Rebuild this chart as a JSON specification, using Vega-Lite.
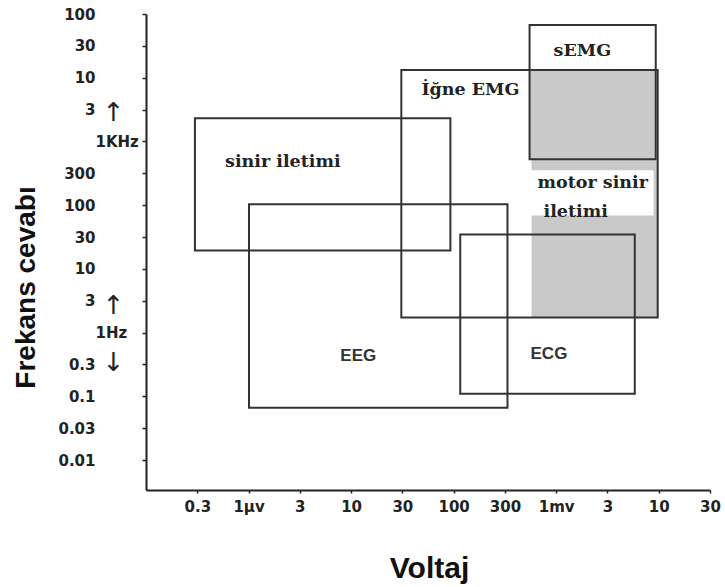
{
  "$schema": "https://vega.github.io/schema/vega-lite/v6.json",
  "width": 564,
  "height": 476,
  "autosize": {"type": "none"},
  "padding": {"left": 146, "top": 14, "right": 15, "bottom": 97},
  "background": "white",
  "config": {"view": {"stroke": null}, "axis": {"grid": false}},
  "datasets": {
    "shade": [
      {"name": "sEMG ∩ İğne EMG", "v1": 0.00055, "v2": 0.00935, "f1": 525, "f2": 13200},
      {"name": "motor sinir iletimi", "v1": 0.000575, "v2": 0.00977, "f1": 1.72, "f2": 525}
    ],
    "labelbox": [
      {"name": "motor sinir iletimi", "v1": 0.00056, "v2": 0.00893, "f1": 69, "f2": 352}
    ],
    "regions": [
      {"name": "sinir iletimi", "v1": 3.0e-7, "v2": 9.3e-5, "f1": 19.5, "f2": 2317},
      {"name": "EEG", "v1": 1.01e-6, "v2": 3.35e-4, "f1": 0.066, "f2": 103},
      {"name": "İğne EMG", "v1": 3.09e-5, "v2": 0.00977, "f1": 1.72, "f2": 13200},
      {"name": "sEMG", "v1": 0.00055, "v2": 0.00935, "f1": 525, "f2": 67000},
      {"name": "ECG", "v1": 1.16e-4, "v2": 0.00584, "f1": 0.11, "f2": 34.7}
    ],
    "serifLabels": [
      {"text": "sinir iletimi", "v": 5.9e-7, "f": 471},
      {"text": "İğne EMG", "v": 4.85e-5, "f": 6380},
      {"text": "sEMG", "v": 0.000944, "f": 26200},
      {"text": "motor sinir", "v": 0.000658, "f": 220},
      {"text": "iletimi", "v": 0.000753, "f": 77}
    ],
    "sansLabels": [
      {"text": "EEG", "v": 7.86e-6, "f": 0.434},
      {"text": "ECG", "v": 0.000562, "f": 0.468}
    ]
  },
  "layer": [
    {
      "data": {"name": "shade"},
      "mark": {"type": "rect", "fill": "#c9c9c9", "strokeWidth": 0},
      "encoding": {
        "x": {
          "field": "v1", "type": "quantitative",
          "scale": {"type": "log", "domain": [1e-7, 0.031623], "nice": false},
          "axis": {
            "orient": "bottom",
            "values": [3.1623e-7, 1e-6, 3.1623e-6, 1e-5, 3.1623e-5, 1e-4, 3.1623e-4, 1e-3, 3.1623e-3, 1e-2, 3.1623e-2],
            "labelExpr": "['0.3','1µv','3','10','30','100','300','1mv','3','10','30'][round(log(datum.value)/LN10*2)+13]",
            "labelFont": "DejaVu Sans", "labelFontSize": 15, "labelFontWeight": "bold", "labelColor": "#222",
            "labelPadding": 6, "labelOverlap": false, "labelFlush": false, "labelBound": false,
            "tickSize": 3, "tickColor": "#222", "tickWidth": 1.5,
            "domainColor": "#222", "domainWidth": 2,
            "title": "Voltaj", "titleFont": "Liberation Sans", "titleFontSize": 30, "titleFontWeight": "bold",
            "titleColor": "#111", "titleBaseline": "alphabetic", "titleY": 87, "titleX": 283, "titleAlign": "center"
          }
        },
        "x2": {"field": "v2"},
        "y": {
          "field": "f1", "type": "quantitative",
          "scale": {"type": "log", "domain": [0.00339, 100000], "nice": false},
          "axis": {
            "orient": "left",
            "values": [0.01, 0.031623, 0.1, 0.31623, 1, 3.1623, 10, 31.623, 100, 316.23, 1000, 3162.3, 10000, 31623, 100000],
            "labelExpr": "['0.01','0.03','0.1','0.3','1Hz','3','10','30','100','300','1KHz','3','10','30','100'][round(log(datum.value)/LN10*2)+4]",
            "labelAlign": {"condition": {"test": "datum.value == 1 || datum.value == 1000", "value": "left"}, "value": "right"},
            "labelFont": "DejaVu Sans", "labelFontSize": 15, "labelFontWeight": "bold", "labelColor": "#222",
            "labelPadding": 47, "labelOverlap": false, "labelFlush": false, "labelBound": false,
            "tickSize": 4, "tickColor": "#222", "tickWidth": 1.5,
            "domainColor": "#222", "domainWidth": 2,
            "title": "Frekans cevabı", "titleFont": "Liberation Sans", "titleFontSize": 28, "titleFontWeight": "bold",
            "titleColor": "#111", "titleAngle": 270, "titleBaseline": "middle", "titleAlign": "center",
            "titleX": -120, "titleY": 273
          }
        },
        "y2": {"field": "f2"}
      }
    },
    {
      "data": {"name": "labelbox"},
      "mark": {"type": "rect", "fill": "white", "strokeWidth": 0},
      "encoding": {
        "x": {"field": "v1", "type": "quantitative", "axis": null},
        "x2": {"field": "v2"},
        "y": {"field": "f1", "type": "quantitative", "axis": null},
        "y2": {"field": "f2"}
      }
    },
    {
      "data": {"name": "regions"},
      "mark": {"type": "rect", "fill": "white", "fillOpacity": 0, "stroke": "#333", "strokeWidth": 2},
      "encoding": {
        "x": {"field": "v1", "type": "quantitative", "axis": null},
        "x2": {"field": "v2"},
        "y": {"field": "f1", "type": "quantitative", "axis": null},
        "y2": {"field": "f2"}
      }
    },
    {
      "data": {"name": "serifLabels"},
      "mark": {"type": "text", "align": "left", "baseline": "middle", "font": "DejaVu Serif", "fontWeight": "bold", "fontSize": 17.5, "color": "#222"},
      "encoding": {
        "x": {"field": "v", "type": "quantitative", "axis": null},
        "y": {"field": "f", "type": "quantitative", "axis": null},
        "text": {"field": "text"}
      }
    },
    {
      "data": {"name": "sansLabels"},
      "mark": {"type": "text", "align": "left", "baseline": "middle", "font": "Liberation Sans", "fontWeight": "bold", "fontSize": 17, "color": "#333"},
      "encoding": {
        "x": {"field": "v", "type": "quantitative", "axis": null},
        "y": {
          "field": "f", "type": "quantitative",
          "axis": {
            "orient": "left",
            "values": [2877, 2.66, 0.337],
            "labelExpr": "datum.value > 1 ? '↑' : '↓'",
            "labelFont": "DejaVu Sans", "labelFontSize": 26, "labelColor": "#222",
            "labelAlign": "center", "labelBaseline": "middle", "labelPadding": 33,
            "labelOverlap": false, "labelFlush": false, "labelBound": false,
            "ticks": false, "domain": false, "title": null
          }
        },
        "text": {"field": "text"}
      }
    }
  ],
  "resolve": {
    "scale": {"x": "shared", "y": "shared"},
    "axis": {"x": "independent", "y": "independent"}
  }
}
